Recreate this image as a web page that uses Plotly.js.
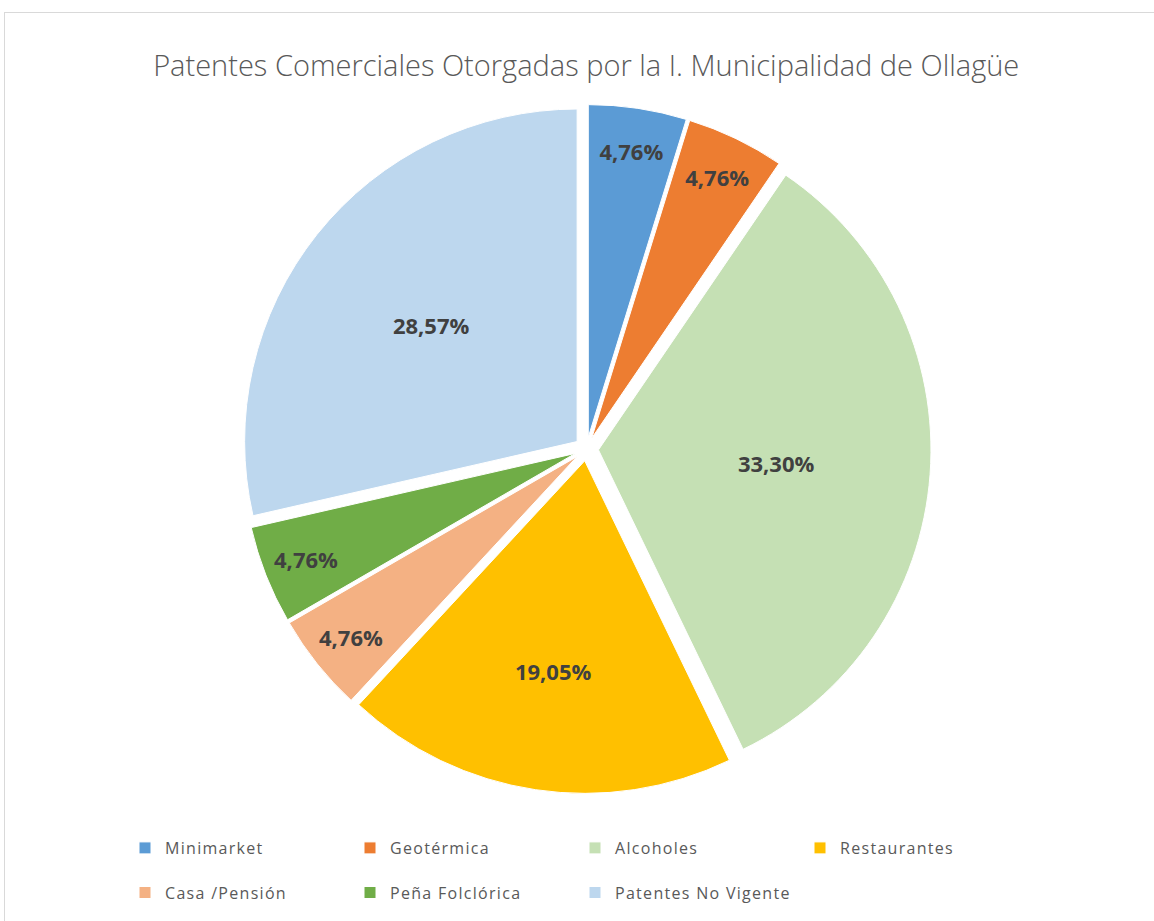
<!DOCTYPE html>
<html>
<head>
<meta charset="utf-8">
<script src="https://cdn.plot.ly/plotly-3.0.1.min.js"></script>
<style>
html,body{margin:0;padding:0;background:#fff;}
#frame{position:absolute;left:4px;top:12px;width:1160px;height:920px;border-top:1px solid #d9d9d9;border-left:1px solid #d9d9d9;}
#chart{position:absolute;left:0;top:0;width:1154px;height:921px;}
#chart .legendtext{letter-spacing:1.3px;}
</style>
</head>
<body>
<div id="frame"></div>
<div id="chart"></div>
<script>
const categories = ["Minimarket","Geotérmica","Alcoholes","Restaurantes","Casa /Pensión","Peña Folclórica","Patentes No Vigente"];
const values = [4.76, 4.76, 33.30, 19.05, 4.76, 4.76, 28.57];
const colors = ["#5B9BD5","#ED7D31","#C5E0B4","#FFC000","#F4B183","#70AD47","#BDD7EE"];
const titleText = "Patentes Comerciales Otorgadas por la I. Municipalidad de Ollagüe";

// legend entries get an empty second line so that rows are spaced like the original
const legendLabels = categories.map(c => c + "<br> ");

const W = 1154, H = 921, MR = 150, PW = W - MR;

const trace = {
  type: "pie",
  labels: legendLabels,
  values: values,
  sort: false,
  direction: "clockwise",
  rotation: 0,
  pull: 0.036,
  marker: {colors: colors, line: {color: "#ffffff", width: 1}},
  texttemplate: "%{value:.2f}%",
  textposition: "inside",
  insidetextorientation: "horizontal",
  textfont: {family: "Open Sans, sans-serif", size: 22, color: "#404040", weight: "bold"},
  hovertext: categories,
  hoverinfo: "text+value",
  domain: {x: [242/PW, 931/PW], y: [1-795/H, 1-103/H]}
};

const layout = {
  width: W, height: H,
  margin: {l: 0, r: MR, t: 0, b: 0, autoexpand: false},
  paper_bgcolor: "rgba(0,0,0,0)",
  separators: ",.",
  title: {text: titleText, x: 0.508, xanchor: "center", y: 1-66/H, yanchor: "middle",
          font: {family: "Open Sans, sans-serif", size: 29, color: "#595959", weight: 300}},
  showlegend: true,
  legend: {orientation: "h", x: 125/PW, xanchor: "left", y: 1-831/H, yanchor: "top",
           entrywidth: 180, traceorder: "normal", valign: "top",
           font: {family: "Open Sans, sans-serif", size: 16, color: "#595959"}}
};

Plotly.newPlot("chart", [trace], layout, {displayModeBar: false});
</script>
</body>
</html>
